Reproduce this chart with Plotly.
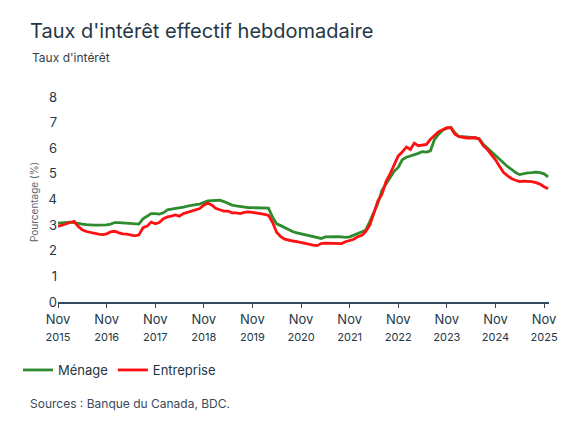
import pandas as pd
import plotly.graph_objs as go

# Monthly readings, Nov 2015 -> Dec 2025
months = pd.date_range('2015-11-01', periods=122, freq='MS')

menage = [3.08, 3.10, 3.12, 3.12, 3.10, 3.06, 3.04, 3.02, 3.00, 3.00, 3.00, 3.00,
          3.01, 3.04, 3.10, 3.10, 3.09, 3.07, 3.06, 3.05, 3.04, 3.25, 3.35, 3.45,
          3.45, 3.43, 3.48, 3.60, 3.62, 3.64, 3.66, 3.70, 3.74, 3.78, 3.80, 3.82,
          3.90, 3.95, 3.96, 3.97, 3.97, 3.92, 3.85, 3.78, 3.75, 3.72, 3.70, 3.68,
          3.68, 3.68, 3.66, 3.68, 3.66, 3.30, 3.05, 2.98, 2.90, 2.80, 2.74, 2.70,
          2.66, 2.62, 2.58, 2.56, 2.50, 2.48, 2.54, 2.55, 2.55, 2.55, 2.54, 2.52,
          2.54, 2.60, 2.66, 2.72, 2.80, 3.14, 3.50, 3.85, 4.35, 4.60, 4.90, 5.10,
          5.25, 5.55, 5.65, 5.70, 5.72, 5.80, 5.87, 5.85, 5.90, 6.35, 6.55, 6.70,
          6.78, 6.82, 6.60, 6.45, 6.45, 6.42, 6.42, 6.40, 6.38, 6.15, 6.00, 5.85,
          5.70, 5.55, 5.40, 5.28, 5.18, 5.05, 4.97, 5.02, 5.04, 5.05, 5.07, 5.05,
          5.00, 4.88]

entreprise = [2.95, 3.00, 3.05, 3.12, 3.15, 2.95, 2.82, 2.75, 2.72, 2.66, 2.65, 2.63,
              2.66, 2.74, 2.76, 2.70, 2.66, 2.65, 2.62, 2.58, 2.62, 2.90, 2.96, 3.12,
              3.05, 3.10, 3.25, 3.32, 3.35, 3.40, 3.35, 3.45, 3.50, 3.55, 3.60, 3.65,
              3.78, 3.86, 3.78, 3.65, 3.60, 3.55, 3.55, 3.48, 3.48, 3.45, 3.50, 3.52,
              3.50, 3.48, 3.45, 3.42, 3.38, 3.10, 2.72, 2.55, 2.45, 2.40, 2.38, 2.36,
              2.32, 2.28, 2.25, 2.22, 2.20, 2.28, 2.30, 2.30, 2.28, 2.30, 2.28, 2.35,
              2.40, 2.45, 2.55, 2.60, 2.75, 3.00, 3.45, 3.95, 4.20, 4.70, 5.00, 5.35,
              5.70, 5.85, 6.05, 5.95, 6.20, 6.10, 6.12, 6.15, 6.35, 6.50, 6.65, 6.72,
              6.80, 6.80, 6.55, 6.45, 6.42, 6.40, 6.40, 6.42, 6.35, 6.10, 5.95, 5.75,
              5.55, 5.30, 5.05, 4.92, 4.82, 4.75, 4.70, 4.72, 4.72, 4.70, 4.66, 4.60,
              4.50, 4.42]

tick_years = list(range(2015, 2026))
tick_vals = [f'{y}-11-01' for y in tick_years]
tick_text = [f"Nov<br><span style='font-size:11px'>{y}</span>" for y in tick_years]

ink = '#243746'

traces = [go.Scatter(x=months, y=menage, name='Ménage', mode='lines',
                     line=dict(color='#2e8b2e', width=2.8)),
          go.Scatter(x=months, y=entreprise, name='Entreprise', mode='lines',
                     line=dict(color='#ff1010', width=2.8))]

layout = go.Layout(
    width=575, height=431,
    margin=dict(l=58, r=26, t=97, b=129),
    paper_bgcolor='white', plot_bgcolor='white',
    font=dict(family='Inter, Lato, sans-serif', color=ink, size=13),
    title=dict(text="Taux d'intérêt effectif hebdomadaire",
               xref='container', yref='container', x=30 / 575, xanchor='left',
               y=1 - 31 / 431, yanchor='middle',
               font=dict(size=20, color=ink)),
    xaxis=dict(range=['2015-11-01', '2025-12-08'], tickvals=tick_vals, ticktext=tick_text,
               showgrid=False, zeroline=False, showline=True, linecolor='#34495c',
               linewidth=2, ticks='outside', ticklen=4, tickcolor='#34495c',
               tickfont=dict(size=13, color=ink)),
    yaxis=dict(range=[0, 8], dtick=1, showgrid=False, zeroline=False, showline=False,
               ticks='', tickfont=dict(size=13, color=ink)),
    showlegend=True,
    legend=dict(orientation='h', x=(18 - 58) / 491, xanchor='left',
                y=(302 - 370) / 205, yanchor='middle', itemwidth=30,
                font=dict(size=13, color=ink)),
    annotations=[
        dict(text="Taux d'intérêt", xref='paper', yref='paper',
             x=(30 - 58) / 491, y=(302 - 57) / 205, xanchor='left', yanchor='middle',
             showarrow=False, font=dict(size=12, color='#333d47')),
        dict(text='Pourcentage (%)', xref='paper', yref='paper',
             x=(34 - 58) / 491, y=(302 - 202) / 205, xanchor='center', yanchor='middle',
             textangle=-90, showarrow=False, font=dict(size=10, color='#5a6670')),
        dict(text='Sources : Banque du Canada, BDC.', xref='paper', yref='paper',
             x=(28 - 58) / 491, y=(302 - 403) / 205, xanchor='left', yanchor='middle',
             showarrow=False, font=dict(size=12, color='#3a4a5a')),
    ],
)

fig = go.Figure(data=traces, layout=layout)
fig.write_html('out.html', config={'displayModeBar': False},
               post_script="document.body.style.margin='0';")
